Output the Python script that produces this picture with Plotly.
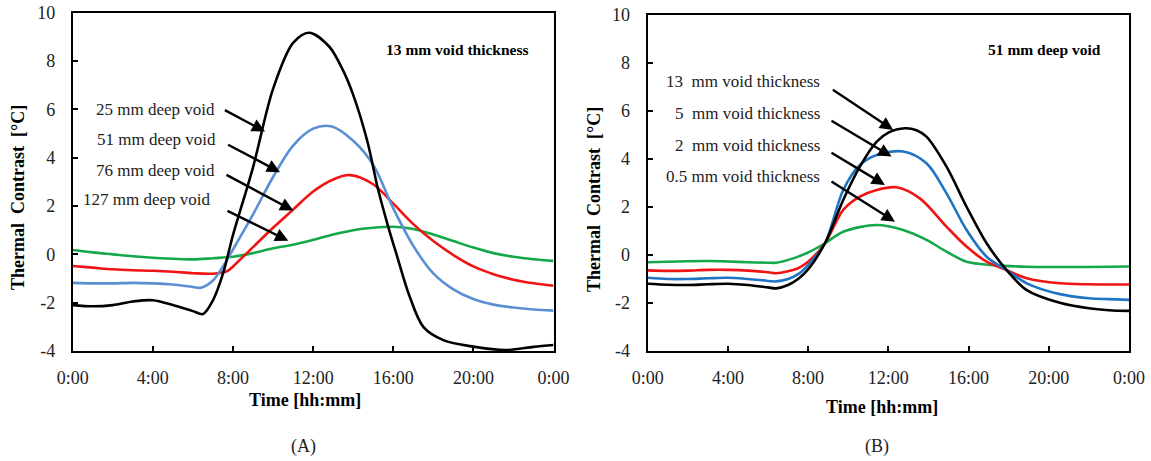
import plotly.graph_objects as go

# ---------------- data (hours of day, thermal contrast in degC) ----------------
tick_vals = [0, 4, 8, 12, 16, 20, 24]
tick_text = ["0:00", "4:00", "8:00", "12:00", "16:00", "20:00", "0:00"]
y_ticks = [-4, -2, 0, 2, 4, 6, 8, 10]
y_tick_text = ["-4", "-2", "0", "2", "4", "6", "8", "10"]

# Panel A: 13 mm void thickness, different depths
tA_25 = [0, 1, 2, 3, 4, 5, 6, 6.5, 7, 7.5, 8, 9, 10, 11, 11.8, 12.8, 13.5, 14, 14.7,
         15.25, 15.75, 16.2, 16.8, 17.5, 18.5, 20, 21.6, 23, 24]
A_25 = [-2.1, -2.15, -2.1, -1.95, -1.9, -2.1, -2.35, -2.47, -1.9, -0.8, 0.8, 3.6, 6.85,
        8.75, 9.17, 8.6, 7.6, 6.6, 4.7, 2.66, 1.14, -0.1, -1.7, -3.0, -3.55, -3.82,
        -3.96, -3.83, -3.75]

tA_51 = [0, 1, 2, 3, 4, 5, 6, 6.4, 7, 7.5, 8, 9, 10, 11, 12, 12.9, 14, 15, 16, 17,
         18, 19, 20, 21, 22, 23, 24]
A_51 = [-1.18, -1.2, -1.2, -1.18, -1.2, -1.25, -1.35, -1.38, -1.08, -0.5, 0.2, 1.65,
        3.2, 4.5, 5.2, 5.3, 4.7, 3.7, 1.9, 0.35, -0.79, -1.45, -1.85, -2.08, -2.2,
        -2.28, -2.33]

tA_76 = [0, 1, 2, 3, 4, 5, 6, 7, 7.7, 8, 9, 10, 11, 12, 13, 13.84, 15, 16, 17, 18,
         19, 20, 21, 22, 23, 24]
A_76 = [-0.48, -0.55, -0.62, -0.66, -0.68, -0.72, -0.78, -0.8, -0.7, -0.5, 0.3, 1.1,
        1.85, 2.6, 3.1, 3.28, 2.9, 2.1, 1.25, 0.55, -0.03, -0.5, -0.82, -1.05, -1.2,
        -1.3]

tA_127 = [0, 1, 2, 3, 4, 5, 6, 7, 8, 9, 10, 11, 12, 13, 14, 15, 16, 17, 18, 19, 20,
          21, 22, 23, 24]
A_127 = [0.18, 0.08, 0.0, -0.08, -0.14, -0.18, -0.21, -0.16, -0.1, 0.05, 0.25, 0.4,
         0.6, 0.82, 1.0, 1.1, 1.14, 1.05, 0.82, 0.55, 0.28, 0.05, -0.1, -0.2, -0.27]

# Panel B: 51 mm deep void, different thicknesses
tB_13 = [0, 1, 2, 3, 4, 5, 6, 6.4, 7, 7.5, 8, 8.84, 9.75, 10.58, 11.42, 12, 12.83,
         13.4, 13.9, 14.9, 15.9, 16.9, 17.9, 18.9, 20.55, 22, 23, 24]
B_13 = [-1.2, -1.24, -1.25, -1.22, -1.2, -1.25, -1.35, -1.39, -1.25, -1.0, -0.6, 0.49,
        2.29, 3.68, 4.72, 5.1, 5.28, 5.2, 4.93, 3.68, 2.01, 0.49, -0.63, -1.46, -1.99,
        -2.22, -2.3, -2.33]

tB_5 = [0, 1, 2, 3, 4, 5, 5.6, 6.4, 7, 7.5, 8, 8.84, 9.75, 10.58, 11.42, 12.74, 13.9,
        14.9, 15.9, 16.9, 17.9, 18.9, 20.55, 22, 23, 24]
B_5 = [-0.95, -1.0, -1.0, -0.97, -0.95, -1.0, -1.04, -1.1, -1.0, -0.8, -0.42, 0.49,
       2.71, 3.75, 4.17, 4.31, 3.82, 2.57, 1.04, -0.07, -0.63, -1.18, -1.63, -1.8,
       -1.84, -1.87]

tB_2 = [0, 1, 2, 3, 4, 5, 6, 6.4, 7, 7.5, 8, 8.84, 9.75, 10.58, 11.42, 12.4, 13.57,
        14.9, 15.9, 16.9, 17.9, 18.9, 20.55, 22, 24]
B_2 = [-0.64, -0.66, -0.65, -0.62, -0.62, -0.65, -0.72, -0.76, -0.68, -0.55, -0.28,
       0.49, 1.88, 2.43, 2.71, 2.82, 2.36, 1.18, 0.35, -0.28, -0.63, -0.97, -1.18,
       -1.22, -1.23]

tB_05 = [0, 1, 2, 3, 4, 5, 6, 6.4, 7.26, 8.09, 8.84, 9.75, 11.42, 12.74, 13.9, 14.9,
         15.9, 17.2, 18.9, 20.5, 22, 24]
B_05 = [-0.3, -0.28, -0.26, -0.25, -0.27, -0.3, -0.32, -0.32, -0.14, 0.14, 0.49, 0.97,
        1.25, 1.04, 0.63, 0.14, -0.28, -0.42, -0.49, -0.5, -0.5, -0.48]

labels_A = ["25 mm deep void", "51 mm deep void", "76 mm deep void", "127 mm deep void"]
labels_B = ["13  mm void thickness", "5  mm void thickness", "2  mm void thickness",
            "0.5 mm void thickness"]

# ---------------- styling ----------------
FONT = "Liberation Serif"
BLACK = "#000000"
BLUE_A = "#5b8fd4"
BLUE_B = "#1f74c4"
RED = "#f01414"
GREEN = "#14a84a"
LW = 2.6

fig = go.Figure()

def add_line(t, y, color, xa, ya):
    fig.add_trace(go.Scatter(x=t, y=y, mode="lines", xaxis=xa, yaxis=ya,
                             line=dict(color=color, width=LW, shape="spline",
                                       smoothing=0.9),
                             hoverinfo="skip", showlegend=False))

add_line(tA_127, A_127, GREEN, "x", "y")
add_line(tA_76, A_76, RED, "x", "y")
add_line(tA_51, A_51, BLUE_A, "x", "y")
add_line(tA_25, A_25, BLACK, "x", "y")

add_line(tB_05, B_05, GREEN, "x2", "y2")
add_line(tB_2, B_2, RED, "x2", "y2")
add_line(tB_5, B_5, BLUE_B, "x2", "y2")
add_line(tB_13, B_13, BLACK, "x2", "y2")

xcommon = dict(range=[0, 24], tickvals=tick_vals, ticktext=tick_text,
               ticks="inside", ticklen=5, tickwidth=2, tickcolor="black",
               showline=True, linewidth=2, linecolor="black", mirror=True,
               showgrid=False, zeroline=False, ticklabelstandoff=9, automargin=False,
               tickfont=dict(family=FONT, size=18, color="#222"))
ycommon = dict(range=[-4, 10], tickvals=y_ticks, ticktext=y_tick_text,
               ticks="inside", ticklen=5, tickwidth=2, tickcolor="black",
               showline=True, linewidth=2, linecolor="black", mirror=True,
               showgrid=False, zeroline=False, ticklabelstandoff=12, automargin=False,
               tickfont=dict(family=FONT, size=18, color="#222"))

fig.update_layout(
    template="none",
    width=1151, height=461,
    margin=dict(l=0, r=0, t=0, b=0, pad=0),
    paper_bgcolor="white", plot_bgcolor="white",
    showlegend=False,
    xaxis=dict(domain=[0.0632, 0.4809], anchor="y", **xcommon),
    yaxis=dict(domain=[0.2386, 0.9725], anchor="x", **ycommon),
    xaxis2=dict(domain=[0.5627, 0.9809], anchor="y2", **xcommon),
    yaxis2=dict(domain=[0.2386, 0.9675], anchor="x2", **ycommon),
)

ann = []
# series labels and arrows, panel A
txtA = [(7.19, 6.0), (7.24, 4.77), (7.19, 3.46), (7.0, 2.28)]
arrA = [((7.52, 6.0), (9.6, 5.08)), ((7.68, 4.57), (10.35, 3.4)),
        ((7.6, 3.32), (11.01, 1.81)), ((7.65, 1.83), (10.76, 0.56))]
for lab, (tx, ty), ((x0, y0), (x1, y1)) in zip(labels_A, txtA, arrA):
    ann.append(dict(x=tx, y=ty, xref="x", yref="y", text=lab, showarrow=False,
                    xanchor="right", yanchor="middle",
                    font=dict(family=FONT, size=17, color="#222")))
    ann.append(dict(x=x1, y=y1, ax=x0, ay=y0, xref="x", yref="y", axref="x", ayref="y",
                    text="", showarrow=True, arrowhead=2, arrowsize=1.1,
                    arrowwidth=2.4, arrowcolor="black"))

# series labels and arrows, panel B
txtB = [(8.69, 7.21), (8.69, 5.89), (8.69, 4.56), (8.69, 3.28)]
arrB = [((9.16, 6.93), (12.24, 5.21)), ((9.09, 5.63), (12.16, 4.1)),
        ((9.09, 4.3), (11.83, 2.92)), ((9.09, 3.1), (12.33, 1.39))]
for lab, (tx, ty), ((x0, y0), (x1, y1)) in zip(labels_B, txtB, arrB):
    ann.append(dict(x=tx, y=ty, xref="x2", yref="y2", text=lab, showarrow=False,
                    xanchor="right", yanchor="middle",
                    font=dict(family=FONT, size=17, color="#222")))
    ann.append(dict(x=x1, y=y1, ax=x0, ay=y0, xref="x2", yref="y2", axref="x2",
                    ayref="y2", text="", showarrow=True, arrowhead=2, arrowsize=1.1,
                    arrowwidth=2.4, arrowcolor="black"))

# panel inner titles
ann.append(dict(x=22.9, y=8.48, xref="x", yref="y", text="<b>13 mm void thickness</b>",
                showarrow=False, xanchor="right", yanchor="middle",
                font=dict(family=FONT, size=15.5, color="black")))
ann.append(dict(x=22.7, y=8.57, xref="x2", yref="y2", text="<b>51 mm deep void</b>",
                showarrow=False, xanchor="right", yanchor="middle",
                font=dict(family=FONT, size=15.5, color="black")))

# axis titles (pixel positions converted to paper coords)
W, H = 1151, 461
def px(x, y):
    return x / W, 1 - y / H

for (cx, cy) in [(305, 400), (882, 407)]:
    xx, yy = px(cx, cy)
    ann.append(dict(x=xx, y=yy, xref="paper", yref="paper", text="<b>Time [hh:mm]</b>",
                    showarrow=False, xanchor="center", yanchor="middle",
                    font=dict(family=FONT, size=18, color="black")))
for (cx, cy) in [(18, 198), (594, 200)]:
    xx, yy = px(cx, cy)
    ann.append(dict(x=xx, y=yy, xref="paper", yref="paper",
                    text="<b>Thermal  Contrast  [°C]</b>", textangle=-90,
                    showarrow=False, xanchor="center", yanchor="middle",
                    font=dict(family=FONT, size=18, color="black")))
for (lab, cx, cy) in [("(A)", 303, 446), ("(B)", 877, 446)]:
    xx, yy = px(cx, cy)
    ann.append(dict(x=xx, y=yy, xref="paper", yref="paper", text=lab,
                    showarrow=False, xanchor="center", yanchor="middle",
                    font=dict(family=FONT, size=18, color="#222")))

fig.update_layout(annotations=ann)
fig.write_html("out.html")
